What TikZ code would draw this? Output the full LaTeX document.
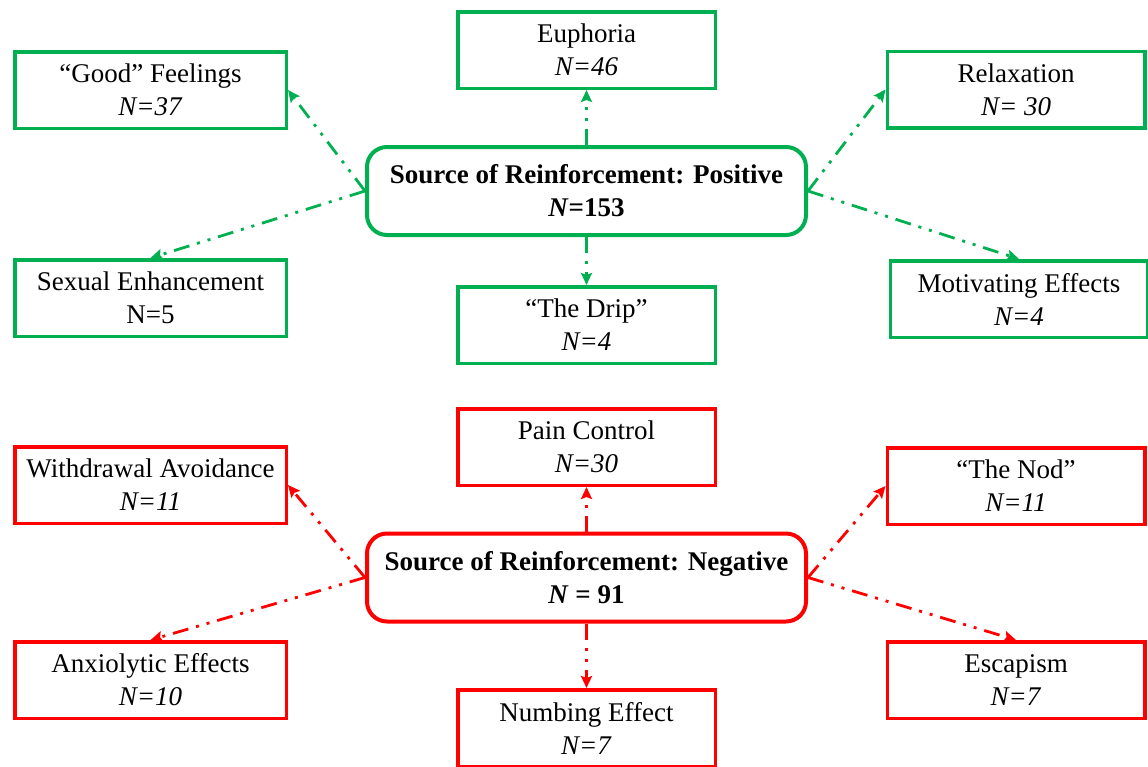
\documentclass[tikz,border=0pt]{standalone}
\usepackage{fontspec}
\setmainfont{Liberation Serif}
\usetikzlibrary{arrows.meta}
\definecolor{posgreen}{RGB}{0,176,80}
\definecolor{negred}{RGB}{255,0,0}
\begin{document}
\begin{tikzpicture}[x=1pt, y=-1pt, >={Stealth[length=12pt,width=11pt,inset=2pt]},
    box/.style={draw, line width=3.5pt, minimum width=271.5pt, minimum height=76.5pt,
      inner sep=0pt, align=center, font=\fontsize{27}{33}\selectfont},
    midbox/.style={box, minimum width=257.5pt},
    hub/.style={box, line width=4pt, rounded corners=20pt,
      minimum width=439pt, minimum height=88pt},
    link/.style={line width=2.8pt, ->,
      dash pattern=on 16pt off 8pt on 3pt off 8pt on 3pt off 8pt}]
  \useasboundingbox (0,0) rectangle (1148,766);

  % Positive
  \node[hub, draw=posgreen] (pos) at (586.5,191)
    {\textbf{Source of Reinforcement: Positive}\\\textbf{\textit{N}=153}};
  \node[box, draw=posgreen] (good) at (150.5,90) {“Good” Feelings\\\textit{N=37}};
  \node[midbox, draw=posgreen] (euph) at (586.5,50) {Euphoria\\\textit{N=46}};
  \node[midbox, draw=posgreen] (relax) at (1016,89.5) {Relaxation\\\textit{N= 30}};
  \node[box, draw=posgreen] (sex) at (150.5,298) {Sexual Enhancement\\N=5};
  \node[midbox, draw=posgreen] (drip) at (586.5,325) {“The Drip”\\\textit{N=4}};
  \node[midbox, draw=posgreen] (motiv) at (1019,299) {Motivating Effects\\\textit{N=4}};

  % Negative
  \node[hub, draw=negred] (neg) at (586.5,577.5)
    {\textbf{Source of Reinforcement: Negative}\\\textbf{\textit{N} = 91}};
  \node[box, draw=negred] (withd) at (150.5,485) {Withdrawal Avoidance\\\textit{N=11}};
  \node[midbox, draw=negred] (pain) at (586.5,447) {Pain Control\\\textit{N=30}};
  \node[midbox, draw=negred] (nod) at (1016,486) {“The Nod”\\\textit{N=11}};
  \node[box, draw=negred] (anx) at (150.5,680) {Anxiolytic Effects\\\textit{N=10}};
  \node[midbox, draw=negred] (numb) at (586.5,728) {Numbing Effect\\\textit{N=7}};
  \node[midbox, draw=negred] (esc) at (1016,680) {Escapism\\\textit{N=7}};

  % Links
  \draw[link, posgreen] (pos.north) -- (euph.south);
  \draw[link, posgreen] (pos.south) -- (drip.north);
  \draw[link, posgreen] (pos.west) -- (good.east);
  \draw[link, posgreen] (pos.west) -- (sex.north);
  \draw[link, posgreen] (pos.east) -- (relax.west);
  \draw[link, posgreen] (pos.east) -- (motiv.north);

  \draw[link, negred] (neg.north) -- (pain.south);
  \draw[link, negred] (neg.south) -- (numb.north);
  \draw[link, negred] (neg.west) -- (withd.east);
  \draw[link, negred] (neg.west) -- (anx.north);
  \draw[link, negred] (neg.east) -- (nod.west);
  \draw[link, negred] (neg.east) -- (esc.north);
\end{tikzpicture}
\end{document}
